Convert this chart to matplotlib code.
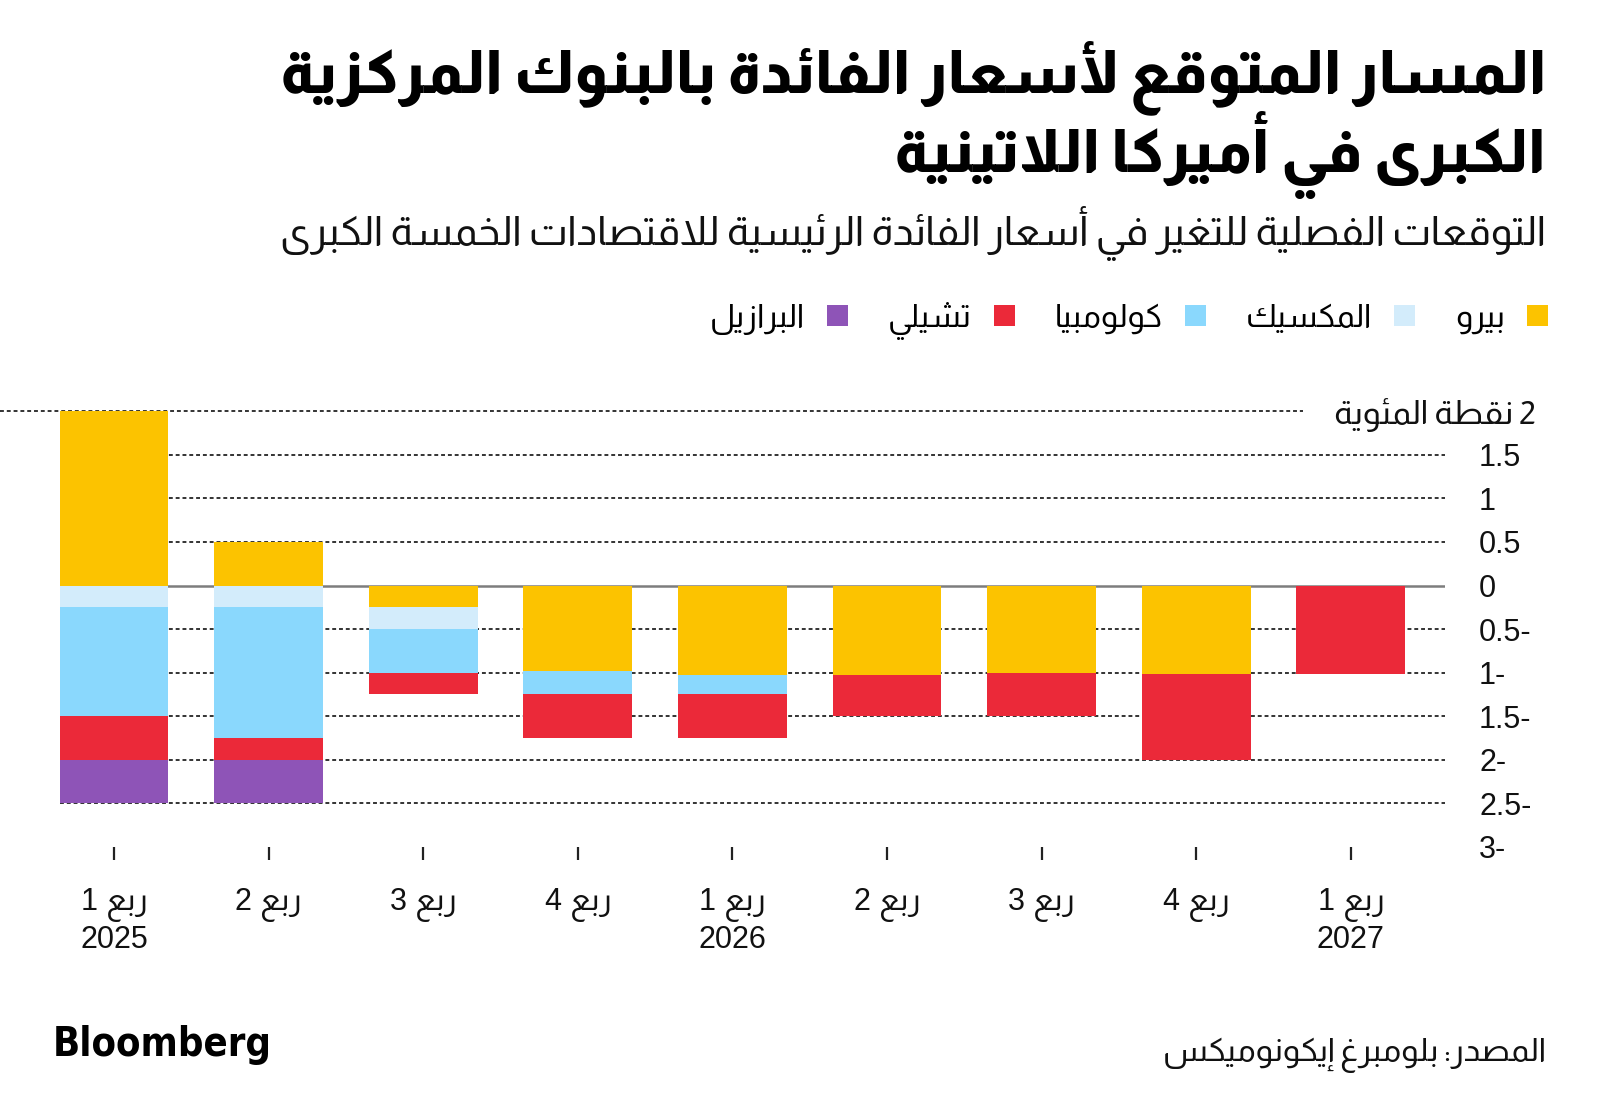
import re
import matplotlib
matplotlib.use("Agg")
import matplotlib.pyplot as plt
import matplotlib.transforms as mtransforms
from matplotlib.patches import Patch
from matplotlib.font_manager import FontProperties
import numpy as np

# ---------------- data ----------------
quarters = ["ربع 1\n2025", "ربع 2", "ربع 3", "ربع 4",
            "ربع 1\n2026", "ربع 2", "ربع 3", "ربع 4", "ربع 1\n2027"]
peru     = [2.00, 0.50, -0.25, -0.98, -1.03, -1.03, -1.00, -1.02, 0.00]
mexico   = [-0.25, -0.25, -0.25, 0.00, 0.00, 0.00, 0.00, 0.00, 0.00]
colombia = [-1.25, -1.50, -0.50, -0.27, -0.22, 0.00, 0.00, 0.00, 0.00]
chile    = [-0.50, -0.25, -0.25, -0.50, -0.50, -0.47, -0.50, -0.98, -1.02]
brazil   = [-0.50, -0.50, 0.00, 0.00, 0.00, 0.00, 0.00, 0.00, 0.00]
series_names = ["بيرو", "المكسيك", "كولومبيا", "تشيلي", "البرازيل"]
series_colors = ["#FCC300", "#D3ECFB", "#8AD8FD", "#EB2939", "#8E54B7"]
ytick_vals = [-3, -2.5, -2, -1.5, -1, -0.5, 0, 0.5, 1, 1.5]
ytick_text = ["3-", "2.5-", "2-", "1.5-", "1-", "0.5-", "0", "0.5", "1", "1.5"]
ytop_val = 2
ytop_label = "2 نقطة المئوية"
title_lines = ["المسار المتوقع لأسعار الفائدة بالبنوك المركزية",
               "الكبرى في أميركا اللاتينية"]
subtitle = "التوقعات الفصلية للتغير في أسعار الفائدة الرئيسية للاقتصادات الخمسة الكبرى"
source = "المصدر: بلومبرغ إيكونوميكس"
logo = "Bloomberg"

# ---------------- Arabic shaping (presentation forms + visual order) ----------------
_DUAL = {'\u0626': 0xFE89, '\u0628': 0xFE8F, '\u062A': 0xFE95, '\u062B': 0xFE99,
         '\u062C': 0xFE9D, '\u062D': 0xFEA1, '\u062E': 0xFEA5, '\u0633': 0xFEB1,
         '\u0634': 0xFEB5, '\u0635': 0xFEB9, '\u0636': 0xFEBD, '\u0637': 0xFEC1,
         '\u0638': 0xFEC5, '\u0639': 0xFEC9, '\u063A': 0xFECD, '\u0641': 0xFED1,
         '\u0642': 0xFED5, '\u0643': 0xFED9, '\u0644': 0xFEDD, '\u0645': 0xFEE1,
         '\u0646': 0xFEE5, '\u0647': 0xFEE9, '\u064A': 0xFEF1}
_RIGHT = {'\u0622': 0xFE81, '\u0623': 0xFE83, '\u0624': 0xFE85, '\u0625': 0xFE87,
          '\u0627': 0xFE8D, '\u0629': 0xFE93, '\u062F': 0xFEA9, '\u0630': 0xFEAB,
          '\u0631': 0xFEAD, '\u0632': 0xFEAF, '\u0648': 0xFEED, '\u0649': 0xFEEF}
_LAMALEF = {'\u0622': 0xFEF5, '\u0623': 0xFEF7, '\u0625': 0xFEF9, '\u0627': 0xFEFB}


def _shape(s):
    units = []
    i = 0
    while i < len(s):
        c = s[i]
        if c == '\u0644' and i + 1 < len(s) and s[i + 1] in _LAMALEF:
            units.append(('LA', _LAMALEF[s[i + 1]], c + s[i + 1]))
            i += 2
            continue
        if c in _DUAL:
            units.append(('D', _DUAL[c], c))
        elif c in _RIGHT:
            units.append(('R', _RIGHT[c], c))
        else:
            units.append(('X', None, c))
        i += 1
    out = []
    n = len(units)
    for k, (kind, base, orig) in enumerate(units):
        if kind == 'X':
            out.append(orig)
            continue
        prev_j = k > 0 and units[k - 1][0] == 'D'
        next_j = kind == 'D' and k + 1 < n and units[k + 1][0] in ('D', 'R', 'LA')
        if kind == 'D':
            off = {(False, False): 0, (True, False): 1,
                   (False, True): 2, (True, True): 3}[(prev_j, next_j)]
        else:
            off = 1 if prev_j else 0
        if off == 0 and kind != 'LA':
            out.append(orig)          # isolated form = base letter
        else:
            out.append(chr(base + off))
    return ''.join(out)


def ar(text):
    lines = []
    for line in text.split('\n'):
        shaped = _shape(line)
        toks = re.findall(r'[0-9A-Za-z.]+|[^0-9A-Za-z.]+', shaped)
        vis = ''.join(t if re.match(r'[0-9A-Za-z.]', t) else t[::-1]
                      for t in reversed(toks))
        lines.append(vis)
    return '\n'.join(lines)


# ---------------- figure ----------------
W, H = 1600, 1118
fig = plt.figure(figsize=(W / 100, H / 100), dpi=100)
fig.patch.set_facecolor("white")

AR = ["Almarai", "DejaVu Sans"]
NUM = ["Liberation Sans", "Almarai", "DejaVu Sans"]

y_top_px, y_bot_px = 411.2, 847.0
x_left_px, x_right_px = 0.0, 1445.0
x0_px, step_px = 114.0, 154.6
ax = fig.add_axes([x_left_px / W, 1 - y_bot_px / H,
                   (x_right_px - x_left_px) / W, (y_bot_px - y_top_px) / H])
xmin_d = (x_left_px - x0_px) / step_px
xmax_d = (x_right_px - x0_px) / step_px
ax.set_xlim(xmin_d, xmax_d)
ax.set_ylim(-3, 2)
for sp in ax.spines.values():
    sp.set_visible(False)

bar_w = 0.705
grid_start = 0 - bar_w / 2
grid_kw = dict(color="#333333", lw=1.4, linestyles=(0, (2.0, 1.5)), zorder=1)
for v in ytick_vals:
    if v in (0, -3):
        continue
    ax.hlines(v, grid_start, xmax_d, **grid_kw)
ax.hlines(ytop_val, xmin_d, (1303 - x0_px) / step_px, clip_on=False, **grid_kw)
ax.hlines(0, grid_start, xmax_d, color="#7d7d7d", lw=1.8, zorder=1.5)

x = np.arange(len(quarters))
series = [peru, mexico, colombia, chile, brazil]
pos_base = np.zeros(len(x))
neg_base = np.zeros(len(x))
handles = []
for vals, name, col in zip(series, series_names, series_colors):
    v = np.array(vals, dtype=float)
    bottom = np.where(v >= 0, pos_base, neg_base)
    ax.bar(x, v, bar_w, bottom=bottom, color=col, linewidth=0, zorder=2)
    pos_base = pos_base + np.where(v > 0, v, 0)
    neg_base = neg_base + np.where(v < 0, v, 0)
    handles.append(Patch(facecolor=col, edgecolor="none", label=ar(name)))

ax.set_xticks(x)
ax.set_xticklabels([ar(q) for q in quarters], family=NUM, fontsize=22,
                   color="#111111", linespacing=1.15)
ax.tick_params(axis="x", direction="out", length=9.5, width=1.6, color="#222222",
               pad=20)
ax.yaxis.tick_right()
ax.set_yticks(ytick_vals)
ax.set_yticklabels(ytick_text, family=NUM, fontsize=22, color="#111111")
ax.tick_params(axis="y", length=0, pad=24.5)

trans = mtransforms.blended_transform_factory(fig.transFigure, ax.transData)
ax.text(1536 / W, ytop_val, ar(ytop_label), transform=trans, ha="right",
        va="center_baseline", fontsize=24, family=AR,
        color="#111111", clip_on=False)

# legend (RTL: square to the right of each label)
leg = fig.legend(handles[::-1], [h.get_label() for h in handles[::-1]],
                 loc="center right", bbox_to_anchor=(1548 / W, 1 - 321 / H),
                 ncol=5, markerfirst=False, frameon=False,
                 prop=FontProperties(family=AR, size=23),
                 handlelength=0.65, handleheight=0.65, handletextpad=0.7,
                 columnspacing=1.25, borderpad=0, borderaxespad=0)

# titles
r = fig.canvas.get_renderer()


def fit(t, target):
    for _ in range(3):
        w = t.get_window_extent(r).width
        t.set_fontsize(t.get_fontsize() * target / w)


t1 = fig.text(1546 / W, 1 - 92 / H, ar(title_lines[0]), ha="right", va="baseline",
              fontsize=44, family=AR, weight=800, color="black")
fit(t1, 1268)
t2 = fig.text(1546 / W, 1 - 172 / H, ar(title_lines[1]), ha="right", va="baseline",
              fontsize=t1.get_fontsize(), family=AR, weight=800, color="black")

st = fig.text(1546 / W, 1 - 245 / H, ar(subtitle), ha="right", va="baseline",
              fontsize=26, family=AR, color="#111111")
fit(st, 1265)
src = fig.text(1546 / W, 1 - 1061 / H, ar(source), ha="right", va="baseline",
               fontsize=18, family=AR, color="#111111")
fit(src, 383)
lg = fig.text(53 / W, 1 - 1056 / H, logo, ha="left", va="baseline",
              fontsize=30, family="DejaVu Sans", stretch="condensed",
              weight="bold", color="black")
fit(lg, 219)

fig.savefig("out.png", dpi=100, facecolor="white")
